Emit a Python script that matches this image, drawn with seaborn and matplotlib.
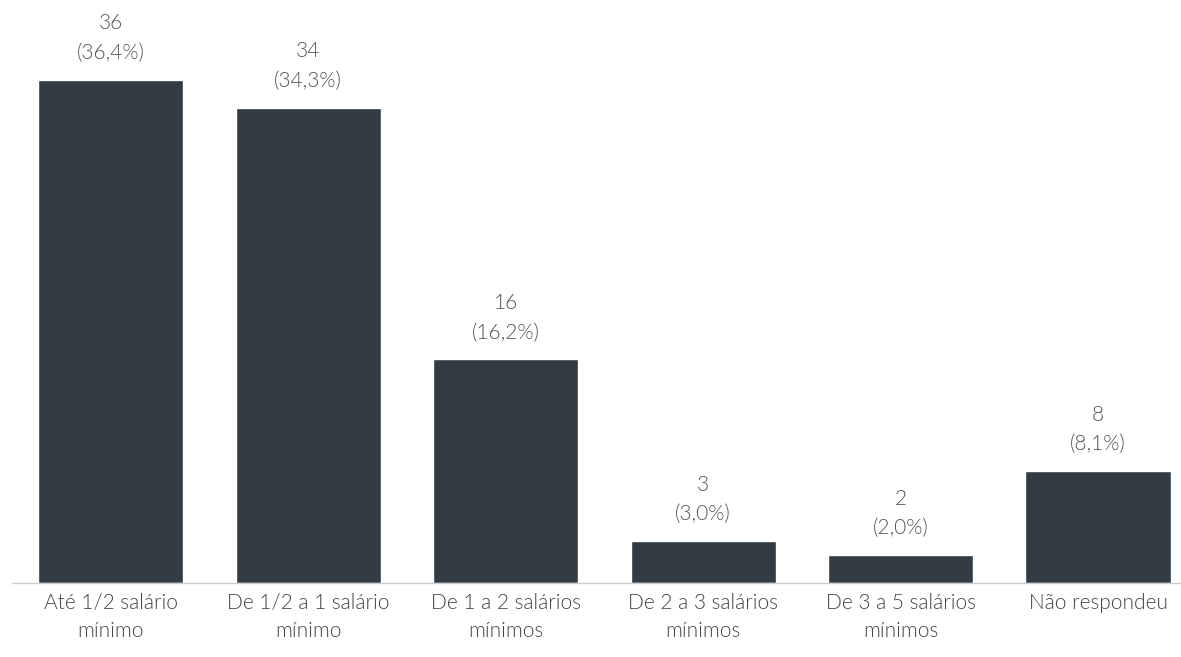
import matplotlib
matplotlib.use("Agg")
import matplotlib.pyplot as plt
import seaborn as sns
import pandas as pd

# Dados
categorias = ["Até 1/2 salário\nmínimo", "De 1/2 a 1 salário\nmínimo", "De 1 a 2 salários\nmínimos",
              "De 2 a 3 salários\nmínimos", "De 3 a 5 salários\nmínimos", "Não respondeu"]
valores = [36, 34, 16, 3, 2, 8]
percentuais = [36.4, 34.3, 16.2, 3.0, 2.0, 8.1]

df = pd.DataFrame({"faixa": categorias, "n": valores})

sns.set_style("white")
plt.rcParams["font.family"] = ["Lato", "DejaVu Sans"]

fig = plt.figure(figsize=(11.81, 6.57), dpi=100)
ax = fig.add_axes([12 / 1181, 74 / 657, 1169 / 1181, 583 / 657])

sns.barplot(x="faixa", y="n", data=df, color="#313c44", width=0.735, saturation=1, ax=ax)

# rótulos acima das barras
for i, (v, p) in enumerate(zip(valores, percentuais)):
    txt = f"{v}\n({p:.1f}%)".replace(".", ",")
    ax.annotate(txt, (i, v), xytext=(0, 12), textcoords="offset points", ha="center", va="bottom",
                fontsize=15, color="#555555", fontweight=300, linespacing=1.6)

ax.set_xlim(-0.5, 5.42)
ax.set_ylim(0, 41.7)
ax.set_xlabel("")
ax.set_ylabel("")
ax.set_yticks([])
ax.tick_params(axis="x", length=0, pad=7, labelsize=15, labelcolor="#444444")
for lab in ax.get_xticklabels():
    lab.set_fontweight(300)
    lab.set_linespacing(1.5)

for s in ["top", "left", "right"]:
    ax.spines[s].set_visible(False)
ax.spines["bottom"].set_color("#cccccc")
ax.spines["bottom"].set_linewidth(1)

fig.savefig("out.png", dpi=100, facecolor="white")
